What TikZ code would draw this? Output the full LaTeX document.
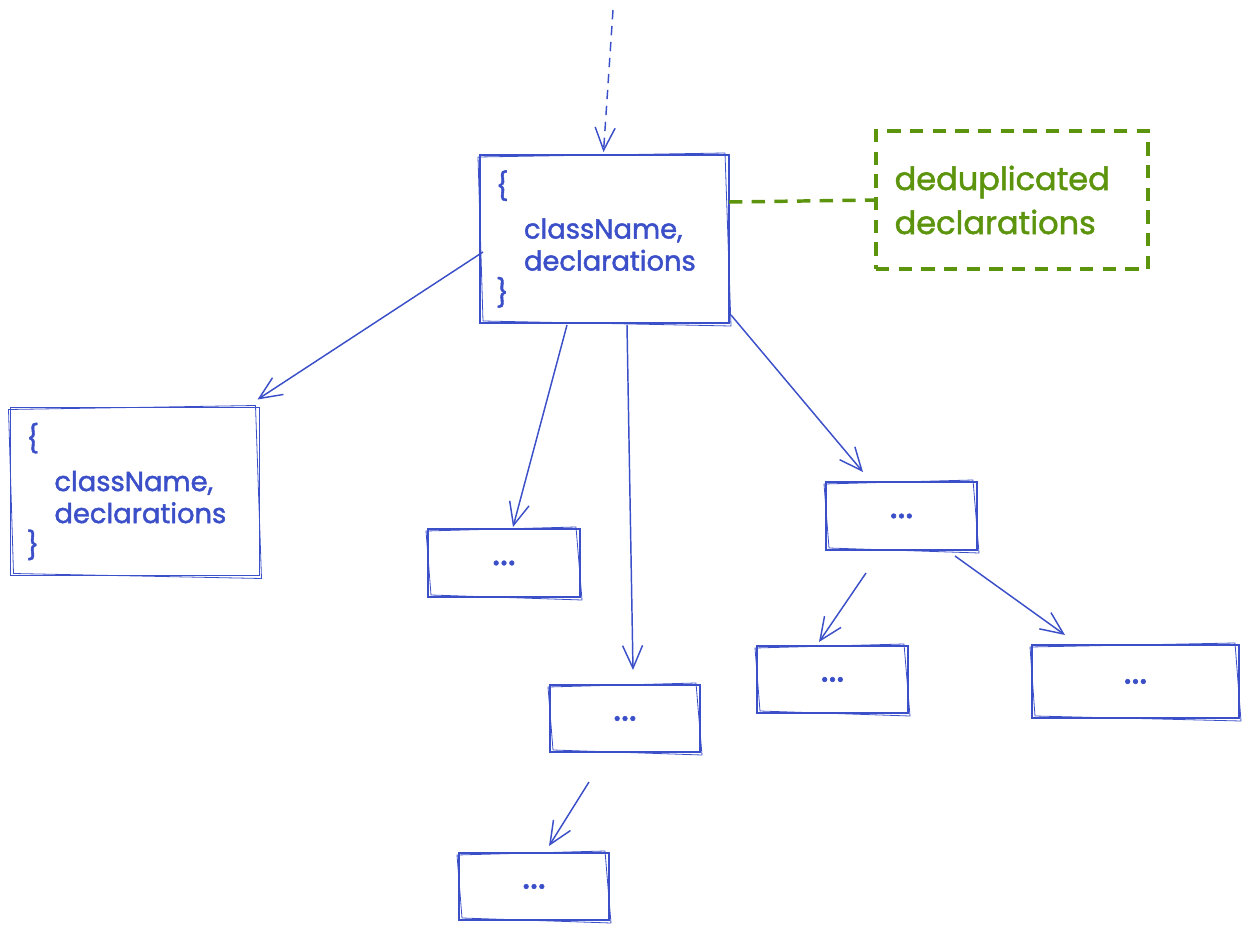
\documentclass[tikz,border=0pt]{standalone}
\usepackage{fontspec}
\setmainfont{Poppins}
\newfontfamily\hand{Poppins}[FakeBold=1.6]
\usetikzlibrary{arrows.meta,calc}
\definecolor{blu}{HTML}{3B4FC8}
\definecolor{grn}{HTML}{5C940D}
\begin{document}
\begin{tikzpicture}[x=0.75pt,y=-0.75pt,
  sk/.style={draw=blu, line width=1.2pt, inner sep=0pt, outer sep=0pt, text=blu},
  bigbox/.style={sk, font=\hand\fontsize{20.5}{24}\selectfont, align=left, inner xsep=12pt,
    text width=162.75pt, minimum height=126pt},
  dots/.style={sk, font=\hand\fontsize{28}{28}\selectfont},
  rough/.style={draw=blu, line width=0.6pt},
  arr/.style={draw=blu, line width=1.1pt, -{Straight Barb[length=17pt,width=15pt,line width=1.1pt]}},
  note/.style={draw=grn, line width=2.6pt, dash pattern=on 10pt off 7pt, text=grn,
    inner sep=0pt, outer sep=0pt, font=\hand\fontsize{24}{33}\selectfont, align=left},
  link/.style={draw=grn, line width=2.6pt, dash pattern=on 10pt off 7pt}]
\useasboundingbox (0,0) rectangle (1247,931);

\node[bigbox] (main) at (604.5,239)
  {\{\\[8pt]\hspace*{21pt}className,\\\hspace*{21pt}declarations\\[0pt]\}};
\node[bigbox] (left) at (135,491.5)
  {\{\\[8pt]\hspace*{21pt}className,\\\hspace*{21pt}declarations\\[0pt]\}};
\node[dots, minimum width=114pt, minimum height=51pt] (A) at (504,563) {...};
\node[dots, minimum width=112.5pt, minimum height=50.25pt] (B) at (625,718.5) {...};
\node[dots, minimum width=113.25pt, minimum height=51pt] (C) at (901.5,516) {...};
\node[dots, minimum width=113.25pt, minimum height=50.25pt] (D) at (832.5,679.5) {...};
\node[dots, minimum width=155.25pt, minimum height=54.75pt] (E) at (1135.5,681.5) {...};
\node[dots, minimum width=112.5pt, minimum height=50.25pt] (F) at (534,886.5) {...};
\node[note, minimum width=204pt, minimum height=103.5pt, text width=176pt] (note) at (1012,200)
  {deduplicated\\declarations};

\foreach \n in {main,left,A,B,C,D,E,F}
  \draw[rough] ($(\n.north west)+(-2,2)$) -- ($(\n.north east)+(-4,-2)$)
    -- ($(\n.south east)+(2,3)$) -- ($(\n.south west)+(3,-2)$) -- cycle;

\coordinate (top) at (613,10);
\draw[arr, dash pattern=on 7pt off 5pt] (top) -- ($(main.north)+(-1,-3)$);
\draw[link] ($(main.east)+(0,-37)$) -- (note.west);

\draw[arr] ($(main.west)+(3,13)$) -- ($(left.north east)+(-2,-8)$);
\draw[arr] ($(main.south)+(-37.5,2)$) -- ($(A.north)+(9,-2)$);
\draw[arr] ($(main.south)+(22.5,2)$) -- ($(B.north)+(8,-15)$);
\draw[arr] ($(main.south east)+(2,-8)$) -- ($(C.north)+(-38.5,-10)$);
\draw[arr] ($(C.south)+(-35.5,23)$) -- ($(D.north)+(-13.5,-4)$);
\draw[arr] ($(C.south)+(53.5,6)$) -- ($(E.north)+(-70.5,-10)$);
\draw[arr] ($(B.south)+(-36,30)$) -- ($(F.north)+(15,-7)$);
\end{tikzpicture}
\end{document}
